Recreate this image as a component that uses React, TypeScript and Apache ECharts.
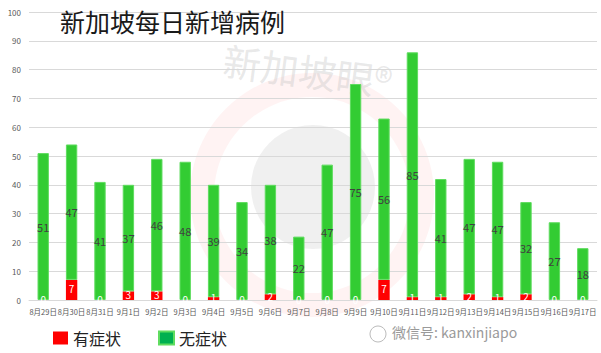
import React, { useEffect, useRef } from "react";
import * as echarts from "echarts";

const categories = [
  "8月29日", "8月30日", "8月31日", "9月1日", "9月2日", "9月3日", "9月4日",
  "9月5日", "9月6日", "9月7日", "9月8日", "9月9日", "9月10日", "9月11日",
  "9月12日", "9月13日", "9月14日", "9月15日", "9月16日", "9月17日",
];
const symptomatic = [0, 7, 0, 3, 3, 0, 1, 0, 2, 0, 0, 0, 7, 1, 1, 2, 1, 2, 0, 0];
const asymptomatic = [51, 47, 41, 37, 46, 48, 39, 34, 38, 22, 47, 75, 56, 85, 41, 47, 47, 32, 27, 18];
const seriesNames = ["有症状", "无症状"];
const titleText = "新加坡每日新增病例";

const FONT = "'Noto Sans CJK SC', 'Noto Sans', sans-serif";

export default function App() {
  const ref = useRef<HTMLDivElement>(null);
  useEffect(() => {
    if (!ref.current) return;
    const chart = echarts.init(ref.current, undefined, { renderer: "svg" });
    chart.setOption({
      animation: false,
      backgroundColor: "#ffffff",
      textStyle: { fontFamily: FONT },
      title: {
        text: titleText,
        left: 55,
        top: 3,
        textStyle: { fontSize: 25, fontWeight: "normal", color: "#1a1a1a", fontFamily: FONT },
      },
      graphic: [
        {
          type: "ring",
          shape: { cx: 312, cy: 195, r: 122, r0: 98 },
          style: { fill: "rgba(255,80,80,0.07)" },
          z: -10,
          silent: true,
        },
        {
          type: "circle",
          shape: { cx: 313, cy: 187, r: 62 },
          style: { fill: "rgba(120,120,120,0.11)" },
          z: -10,
          silent: true,
        },
        {
          type: "text",
          x: 226,
          y: 40,
          rotation: -0.13,
          style: {
            text: "新加坡眼®",
            fontSize: 38,
            fontWeight: "normal",
            fill: "rgba(180,180,180,0.3)",
            fontFamily: FONT,
          },
          z: -10,
          silent: true,
        },
        {
          type: "circle",
          shape: { cx: 378, cy: 334, r: 8 },
          style: { fill: "none", stroke: "#bbbbbb", lineWidth: 1 },
        },
        {
          type: "text",
          x: 392,
          y: 325,
          style: {
            text: "微信号: kanxinjiapo",
            fontSize: 14,
            fill: "#9a9a9a",
            fontFamily: FONT,
          },
        },
      ],
      legend: {
        left: 48,
        top: 325,
        itemWidth: 15,
        itemHeight: 13,
        itemGap: 37,
        icon: "rect",
        textStyle: { fontSize: 16, color: "#222", fontFamily: FONT },
        data: [
          { name: seriesNames[0], itemStyle: { color: "#ff0000" } },
          { name: seriesNames[1], itemStyle: { color: "#00b050" } },
        ],
      },
      grid: { left: 29, right: 4, top: 12, bottom: 53 },
      xAxis: {
        type: "category",
        data: categories,
        axisLine: { lineStyle: { color: "#d9d9d9" } },
        axisTick: { show: false },
        axisLabel: { fontSize: 7.5, color: "#595959", margin: 8, interval: 0 },
      },
      yAxis: {
        type: "value",
        min: 0,
        max: 100,
        interval: 10,
        axisLine: { show: false },
        axisTick: { show: false },
        axisLabel: { fontSize: 8, color: "#595959", margin: 8 },
        splitLine: { lineStyle: { color: "#d9d9d9" } },
      },
      series: [
        {
          name: seriesNames[0],
          type: "bar",
          stack: "total",
          data: symptomatic,
          barWidth: "40%",
          itemStyle: { color: "#ff0000" },
          label: {
            show: true,
            position: "inside",
            color: "#ffffff",
            fontSize: 10,
            lineHeight: 10,
            offset: [0, -1],
          },
        },
        {
          name: seriesNames[1],
          type: "bar",
          stack: "total",
          data: asymptomatic,
          barWidth: "40%",
          itemStyle: { color: "#33cc33", borderColor: "#5fdc5f", borderWidth: 1 },
          label: {
            show: true,
            position: "inside",
            color: "#404040",
            fontSize: 11,
          },
        },
      ],
    });
    return () => chart.dispose();
  }, []);
  return <div ref={ref} style={{ width: 601, height: 353, position: "absolute", left: 0, top: 0 }} />;
}
